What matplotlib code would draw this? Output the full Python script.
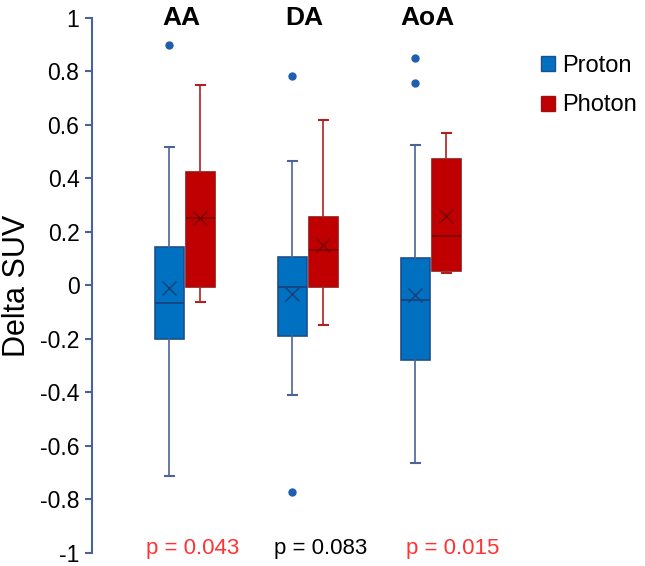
import matplotlib.pyplot as plt
from matplotlib.patches import Patch

plt.rcParams['font.family'] = ['Liberation Sans', 'DejaVu Sans']

# box statistics
groups = ['AA', 'DA', 'AoA']
p_values = ['p = 0.043', 'p = 0.083', 'p = 0.015']
p_colors = ['#ff3333', '#000000', '#ff3333']

proton_whislo = [-0.714, -0.41, -0.662]
proton_q1 = [-0.20, -0.19, -0.279]
proton_med = [-0.067, -0.005, -0.056]
proton_q3 = [0.145, 0.108, 0.104]
proton_whishi = [0.517, 0.465, 0.524]
proton_mean = [-0.008, -0.03, -0.037]
proton_fliers = [[0.90], [0.784, -0.773], [0.851, 0.758]]

photon_whislo = [-0.063, -0.148, 0.045]
photon_q1 = [-0.007, -0.007, 0.056]
photon_med = [0.254, 0.134, 0.186]
photon_q3 = [0.424, 0.256, 0.472]
photon_whishi = [0.751, 0.62, 0.569]
photon_mean = [0.252, 0.152, 0.260]
photon_fliers = [[], [], []]

yticks = [1, 0.8, 0.6, 0.4, 0.2, 0, -0.2, -0.4, -0.6, -0.8, -1]
yticklabels = ['1', '0.8', '0.6', '0.4', '0.2', '0', '-0.2', '-0.4', '-0.6', '-0.8', '-1']


def make_stats(lo, q1, med, q3, hi, mean, fl):
    return [dict(whislo=a, q1=b, med=c, q3=d, whishi=e, mean=f, fliers=g)
            for a, b, c, d, e, f, g in zip(lo, q1, med, q3, hi, mean, fl)]


fig = plt.figure(figsize=(6.45, 5.66), dpi=100)
ax = fig.add_axes([0.1426, 1 - 553 / 566, 0.62, (553 - 18) / 566])

centers = [1, 2, 3]
off = 0.126
w = 0.236
axis_col = '#4a6398'

series = [
    (make_stats(proton_whislo, proton_q1, proton_med, proton_q3, proton_whishi, proton_mean, proton_fliers),
     -off, '#0070c0', '#1f4e8c', '#4a6398', '#1a3f78'),
    (make_stats(photon_whislo, photon_q1, photon_med, photon_q3, photon_whishi, photon_mean, photon_fliers),
     off, '#c00000', '#a01010', '#b02020', '#7a0000'),
]

for stats, dx, fill, edge, wcol, mcol in series:
    ax.bxp(stats, positions=[c + dx for c in centers], widths=w,
           showmeans=True, patch_artist=True, capwidths=0.07,
           boxprops=dict(facecolor=fill, edgecolor=edge, linewidth=1.2),
           whiskerprops=dict(color=wcol, linewidth=1.2),
           capprops=dict(color=wcol, linewidth=1.5),
           medianprops=dict(color=mcol, linewidth=1.2),
           meanprops=dict(marker='x', markeredgecolor=mcol, markersize=10, markeredgewidth=1.0),
           flierprops=dict(marker='o', markerfacecolor='#1f5faf', markeredgecolor='#1f5faf', markersize=5))

ax.set_xlim(0.244, 0.244 + 400 / 123)
ax.set_ylim(-1, 1)
ax.set_yticks(yticks)
ax.set_yticklabels(yticklabels, fontsize=16.5)
ax.set_xticks([])
for s in ['top', 'right', 'bottom']:
    ax.spines[s].set_visible(False)
ax.spines['left'].set_color(axis_col)
ax.spines['left'].set_linewidth(1.5)
ax.tick_params(axis='y', color=axis_col, length=5, width=1.5, pad=4)
ax.set_ylabel('Delta SUV', fontsize=22, labelpad=6)

for c, g in zip(centers, groups):
    ax.text(c - 0.03, 1.0, g, ha='center', va='center', fontsize=19, fontweight='bold', clip_on=False)
p_offsets = [0.06, 0.1, 0.18]
for c, dx, p, col in zip(centers, p_offsets, p_values, p_colors):
    ax.text(c + dx, -0.985, p, ha='center', va='center', fontsize=16, color=col, clip_on=False)

handles = [Patch(facecolor='#0070c0', edgecolor='#1f4e8c', label='Proton'),
           Patch(facecolor='#c00000', edgecolor='#a01010', label='Photon')]
fig.legend(handles=handles, loc='upper left', bbox_to_anchor=(0.824, 0.92), frameon=False,
           fontsize=17, handlelength=0.6, handleheight=0.6, handletextpad=0.3,
           labelspacing=0.75, borderaxespad=0)

fig.savefig('out.png', dpi=100)
